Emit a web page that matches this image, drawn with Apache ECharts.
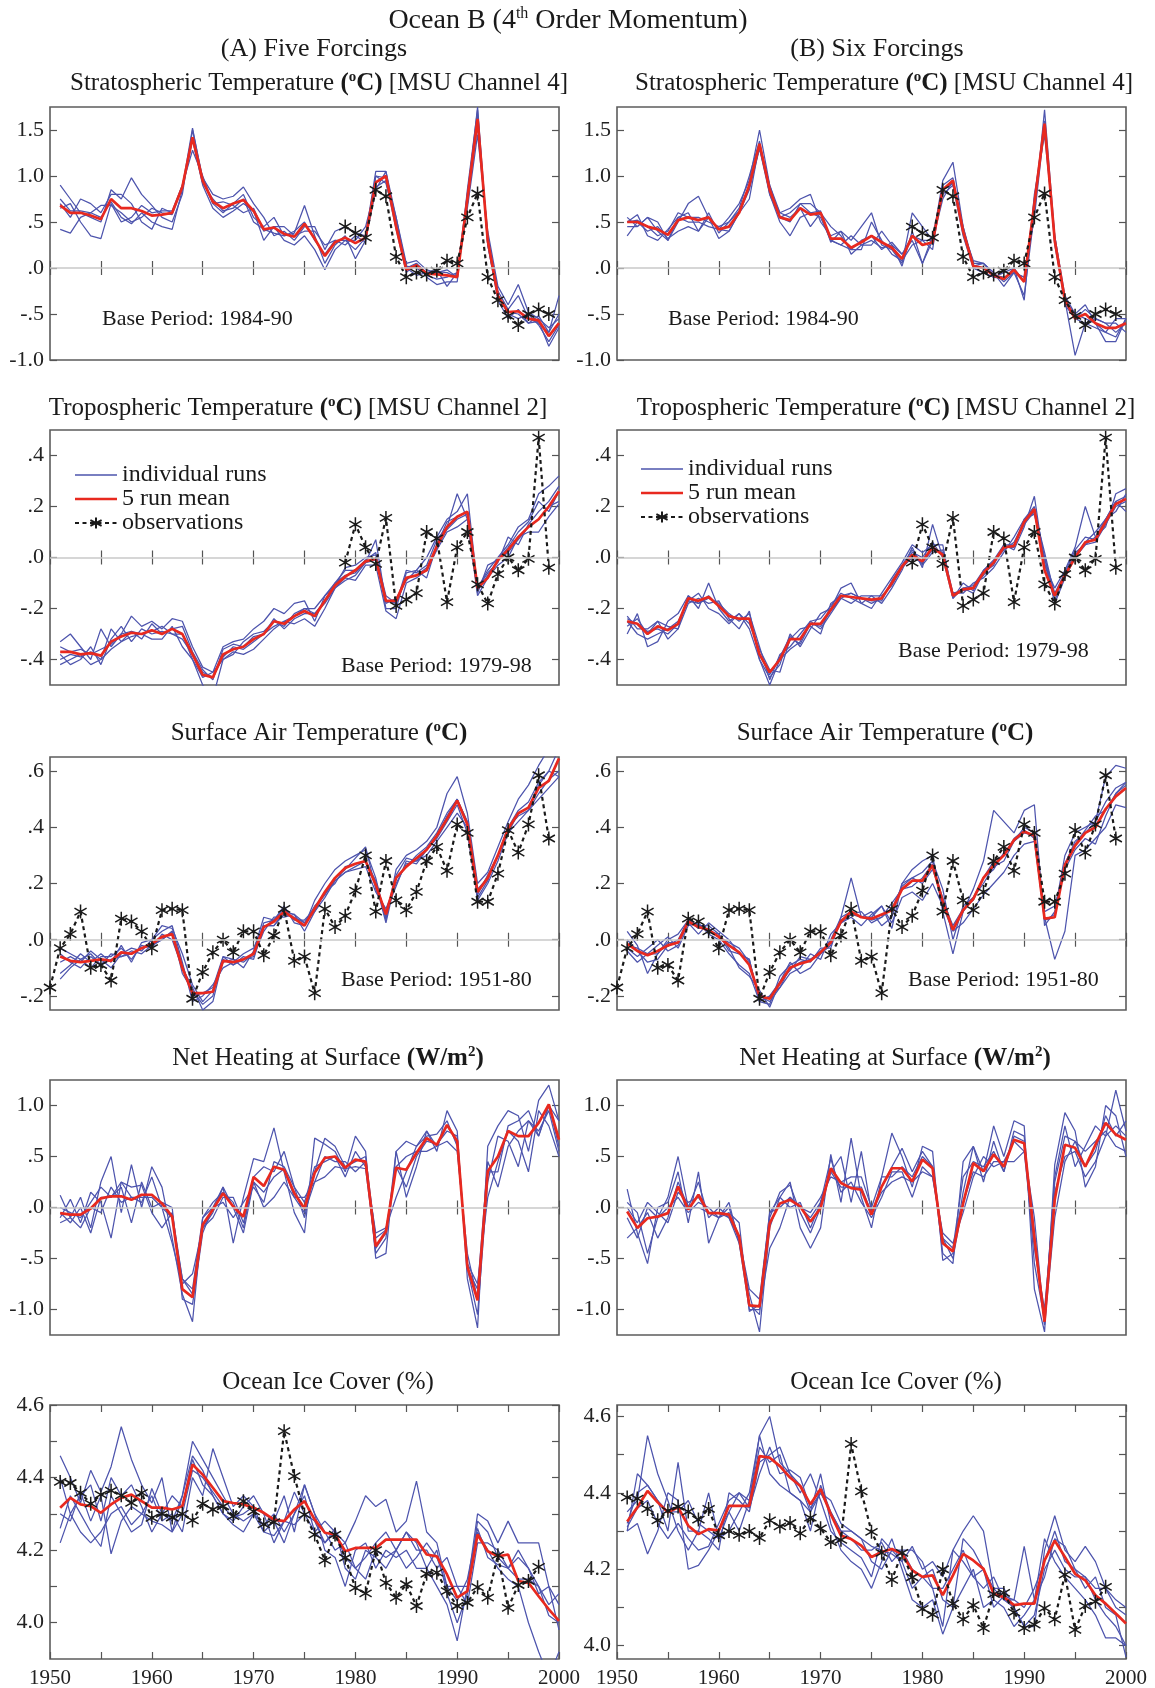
<!DOCTYPE html>
<html>
<head>
<meta charset="utf-8">
<script src="https://cdn.jsdelivr.net/npm/echarts@6/dist/echarts.min.js"></script>
<style>
  html, body { margin: 0; padding: 0; background: #fff; }
  #main { width: 1155px; height: 1688px; }
</style>
</head>
<body>
<div id="main"></div>
<script>
// ---- data (annual values, runs and means start 1951) ----
const stratA_mean = [
  .68,.60,.60,.57,.53,.75,.65,.65,.62,.57,
  .58,.60,.88,1.42,.95,.72,.65,.70,.74,.62,
  .42,.44,.37,.34,.48,.32,.13,.28,.33,.27,
  .33,.93,1.00,.45,-.02,.03,-.06,-.07,-.08,-.10,
  .75,1.62,.30,-.30,-.48,-.47,-.55,-.57,-.74,-.60];
const stratA_runs = [
  [.90,.75,.60,.55,.50,.85,.75,.98,.80,.68, .55,.50,.80,1.50,.98,.80,.75,.78,.88,.70, .55,.35,.40,.30,.45,.45,.20,.40,.45,.38, .35,1.05,1.05,.55,.05,.08,-.02,-.05,-.02,-.10, .70,1.55,.35,-.25,-.45,-.30,-.55,-.60,-.70,-.30],
  [.42,.38,.55,.60,.55,.72,.55,.48,.60,.50, .45,.42,.85,1.40,.90,.65,.55,.62,.70,.62, .30,.45,.30,.25,.35,.20,-.02,.20,.30,.30, .45,.88,.95,.42,-.05,.05,-.10,-.18,-.15,-.15, .85,1.72,.25,-.35,-.55,-.45,-.60,-.58,-.85,-.65],
  [.70,.55,.75,.70,.60,.80,.80,.70,.50,.42, .65,.60,.90,1.28,1.00,.70,.60,.70,.80,.55, .45,.55,.35,.38,.68,.35,.05,.25,.35,.10, .30,.85,1.05,.45,.00,-.08,-.05,-.02,-.20,-.05, .80,1.65,.25,-.30,-.50,-.55,-.50,-.62,-.80,-.62],
  [.65,.70,.50,.35,.32,.70,.50,.55,.68,.60, .62,.62,.90,1.40,.92,.75,.62,.65,.75,.50, .42,.38,.35,.40,.50,.30,.15,.30,.25,.35, .28,1.00,.92,.50,.02,.00,-.08,-.12,-.10,-.05, .65,1.45,.40,-.20,-.40,-.18,-.48,-.55,-.65,-.55],
  [.75,.62,.62,.60,.68,.68,.60,.50,.55,.65, .60,.58,.88,1.52,.95,.70,.72,.68,.60,.65, .40,.45,.45,.35,.40,.40,.25,.30,.30,.20, .33,1.00,.98,.55,.00,.05,-.05,-.04,-.05,-.10, .75,1.75,.30,-.30,-.48,-.50,-.60,-.52,-.70,-.50]];
const stratB_mean = [
  .50,.50,.45,.42,.36,.52,.55,.52,.55,.42,
  .45,.60,.90,1.35,.85,.55,.52,.65,.58,.60,
  .32,.32,.22,.28,.35,.28,.22,.10,.35,.25,
  .28,.85,.95,.40,.02,.00,-.08,-.12,-.02,-.15,
  .70,1.57,.30,-.35,-.55,-.50,-.60,-.65,-.65,-.60];
const stratB_runs = [
  [.55,.45,.55,.40,.30,.50,.70,.78,.55,.42, .55,.70,.95,1.50,.90,.60,.65,.75,.80,.50, .35,.40,.30,.45,.60,.25,.20,.05,.60,.45, .30,.95,1.15,.45,.05,.05,-.05,-.15,-.05,-.30, .60,1.72,.35,-.30,-.50,-.40,-.60,-.70,-.75,-.55],
  [.35,.50,.40,.45,.32,.40,.45,.40,.60,.38, .50,.65,1.00,1.38,.80,.50,.35,.55,.60,.55, .30,.25,.35,.25,.25,.40,.25,.15,.30,.05, .35,.80,.90,.35,.00,-.05,-.10,-.12,.00,-.15, .75,1.60,.25,-.35,-.95,-.60,-.55,-.60,-.70,-.60],
  [.50,.58,.35,.30,.42,.55,.50,.50,.45,.42, .40,.60,.85,1.30,.85,.60,.55,.65,.45,.60, .45,.35,.20,.20,.50,.30,.15,.08,.25,.30, .20,.90,.98,.40,.08,.05,-.05,-.20,-.05,-.10, .55,1.55,.30,-.40,-.55,-.60,-.65,-.70,-.55,-.55],
  [.45,.45,.55,.50,.30,.55,.60,.40,.55,.32, .40,.60,.75,1.35,.90,.55,.50,.70,.70,.60, .28,.40,.15,.25,.30,.22,.25,.02,.40,.05, .30,.75,.95,.45,.00,-.05,-.10,-.05,.00,-.35, .80,1.45,.35,-.35,-.50,-.55,-.60,-.80,-.80,-.55],
  [.50,.52,.45,.35,.40,.60,.55,.55,.50,.45, .50,.62,.90,1.30,.80,.55,.60,.70,.60,.62, .30,.25,.20,.30,.35,.20,.28,.15,.35,.30, .30,.85,.92,.40,.02,.05,-.08,-.10,-.05,-.10, .70,1.55,.30,-.35,-.55,-.45,-.55,-.60,-.60,-.70]];
// observations 1979-1999
const strat_obs = [.45,.38,.33,.85,.78,.12,-.10,-.05,-.07,-.03,.08,.05,.55,.81,-.10,-.35,-.52,-.62,-.50,-.45,-.50];

const tropA_mean = [
  -.37,-.37,-.38,-.375,-.385,-.33,-.31,-.295,-.30,-.285,
  -.30,-.28,-.30,-.38,-.46,-.47,-.38,-.36,-.35,-.32,
  -.30,-.25,-.26,-.23,-.21,-.23,-.17,-.11,-.075,-.05,
  -.015,-.005,-.17,-.17,-.08,-.07,-.05,.045,.12,.16,
  .18,-.12,-.08,-.01,.03,.08,.12,.15,.20,.26];
const tropA_runs = [
  [-.33,-.30,-.35,-.40,-.28,-.35,-.30,-.23,-.27,-.25, -.28,-.24,-.25,-.35,-.43,-.45,-.35,-.33,-.32,-.28, -.25,-.20,-.22,-.18,-.17,-.25,-.15,-.10,-.05,-.05, -.01,.02,-.20,-.20,-.06,-.05,.00,.08,.15,.18, .25,-.12,-.05,.00,.05,.12,.15,.25,.28,.32],
  [-.42,-.40,-.38,-.42,-.40,-.28,-.33,-.29,-.30,-.32, -.32,-.27,-.35,-.40,-.50,-.55,-.40,-.37,-.38,-.36, -.32,-.28,-.25,-.26,-.24,-.27,-.20,-.12,-.08,-.09, -.03,-.03,-.21,-.24,-.10,-.08,-.05,.03,.10,.12, .15,-.15,-.08,-.03,.00,.08,.10,.10,.16,.21],
  [-.38,-.42,-.40,-.35,-.42,-.32,-.27,-.33,-.28,-.30, -.29,-.30,-.30,-.40,-.47,-.45,-.40,-.38,-.33,-.30, -.29,-.25,-.27,-.22,-.20,-.20,-.15,-.11,-.04,-.03, .00,.01,-.15,-.18,-.05,-.06,-.03,.07,.12,.25, .15,-.12,-.06,-.02,.08,.05,.13,.18,.22,.28],
  [-.35,-.37,-.36,-.38,-.36,-.34,-.30,-.29,-.32,-.26, -.30,-.28,-.27,-.37,-.44,-.48,-.36,-.34,-.35,-.31, -.30,-.27,-.25,-.23,-.20,-.22,-.17,-.10,-.07,-.06, -.02,.07,-.18,-.16,-.09,-.05,-.08,.05,.14,.16, .18,-.14,-.03,-.01,.04,.10,.14,.22,.18,.26],
  [-.40,-.38,-.39,-.37,-.40,-.36,-.33,-.31,-.30,-.29, -.27,-.30,-.32,-.38,-.45,-.47,-.39,-.35,-.36,-.33, -.30,-.24,-.28,-.24,-.22,-.22,-.18,-.12,-.09,-.07, -.02,-.01,-.17,-.18,-.08,-.07,-.04,.04,.11,.15, .17,-.13,-.07,-.01,.02,.07,.12,.15,.20,.22]];
const tropB_mean = [
  -.25,-.26,-.30,-.27,-.285,-.26,-.16,-.17,-.155,-.19,
  -.23,-.24,-.24,-.38,-.45,-.40,-.32,-.32,-.26,-.26,
  -.205,-.15,-.155,-.16,-.165,-.16,-.10,-.035,.01,-.015,
  .04,.01,-.15,-.125,-.12,-.06,-.02,.04,.045,.14,
  .19,-.05,-.15,-.07,.00,.06,.07,.14,.21,.23];
const tropB_runs = [
  [-.30,-.22,-.35,-.33,-.25,-.22,-.15,-.20,-.10,-.20, -.25,-.22,-.28,-.40,-.47,-.42,-.30,-.35,-.28,-.22, -.20,-.12,-.10,-.18,-.20,-.14,-.08,-.02,.05,.02, .05,.05,-.16,-.10,-.13,-.05,-.01,.05,.03,.12, .24,-.03,-.12,-.05,.04,.20,.08,.12,.25,.27],
  [-.23,-.28,-.28,-.25,-.32,-.28,-.15,-.18,-.16,-.18, -.22,-.25,-.22,-.35,-.48,-.38,-.35,-.30,-.25,-.28, -.22,-.16,-.18,-.15,-.15,-.18,-.12,-.05,.04,-.04, .13,.00,-.14,-.14,-.10,-.08,-.04,.02,.08,.15, .20,.00,-.18,-.08,.00,.05,.08,.15,.18,.25],
  [-.25,-.30,-.32,-.30,-.28,-.25,-.17,-.14,-.20,-.22, -.26,-.22,-.26,-.36,-.44,-.45,-.32,-.28,-.27,-.30, -.18,-.15,-.14,-.16,-.18,-.16,-.10,-.04,.00,-.02, .03,.02,-.15,-.12,-.14,-.06,-.03,.05,.05,.13, .18,.02,-.15,-.07,.02,.05,.06,.13,.20,.22],
  [-.27,-.24,-.30,-.25,-.27,-.28,-.18,-.16,-.18,-.17, -.24,-.28,-.21,-.40,-.50,-.40,-.36,-.33,-.25,-.24, -.19,-.14,-.16,-.18,-.15,-.15,-.11,-.04,.02,.00, .06,.00,-.16,-.12,-.11,-.05,-.02,.03,.06,.14, .18,-.02,-.17,-.06,.01,.06,.10,.15,.22,.18],
  [-.24,-.26,-.29,-.28,-.30,-.26,-.17,-.18,-.15,-.19, -.23,-.24,-.24,-.38,-.46,-.39,-.31,-.34,-.26,-.27, -.21,-.16,-.14,-.16,-.17,-.17,-.09,-.03,.03,-.03, .02,.03,-.14,-.13,-.12,-.07,-.02,.04,.04,.15, .17,.00,-.14,-.06,.03,.08,.07,.15,.22,.24]];
// observations 1979-1999
const trop_obs = [-.02,.13,.04,-.025,.155,-.19,-.165,-.14,.10,.075,-.175,.04,.10,-.105,-.18,-.065,.00,-.05,-.005,.47,-.04];

const surfA_mean = [
  -.06,-.075,-.08,-.075,-.07,-.075,-.045,-.05,-.03,-.015,
  .01,.02,-.10,-.19,-.19,-.185,-.075,-.08,-.07,-.05,
  .045,.065,.10,.075,.05,.11,.17,.22,.255,.27,
  .28,.195,.09,.22,.26,.29,.32,.37,.43,.495,
  .41,.17,.22,.30,.395,.45,.47,.54,.565,.645];
const surfA_runs = [
  [-.12,-.09,-.05,-.08,-.05,-.08,-.02,-.08,-.01,.00, .05,.04,-.05,-.16,-.22,-.18,-.08,-.07,-.10,-.04, .08,.07,.12,.06,.05,.14,.20,.25,.28,.30, .32,.22,.07,.25,.30,.32,.35,.40,.52,.58, .45,.20,.24,.33,.42,.50,.55,.62,.68,.69],
  [-.05,-.08,-.10,-.06,-.09,-.05,-.06,-.04,-.05,-.02, .00,.03,-.12,-.18,-.23,-.20,-.06,-.09,-.07,-.06, .03,.08,.08,.09,.03,.10,.15,.21,.24,.25, .26,.17,.11,.20,.27,.28,.30,.35,.40,.45, .40,.14,.20,.28,.38,.42,.46,.50,.54,.58],
  [-.08,-.06,-.08,-.04,-.07,-.10,-.05,-.03,-.04,.00, .03,.05,-.08,-.22,-.20,-.16,-.10,-.08,-.05,-.03, .05,.05,.10,.09,.06,.10,.17,.20,.26,.27, .28,.20,.06,.22,.26,.30,.33,.38,.45,.50, .42,.18,.22,.30,.40,.44,.46,.52,.57,.60],
  [-.03,-.05,-.07,-.10,-.06,-.06,-.03,-.07,-.02,-.03, .02,.00,-.10,-.17,-.25,-.22,-.07,-.09,-.06,-.07, .05,.05,.09,.08,.06,.12,.16,.22,.25,.29, .33,.18,.10,.19,.28,.27,.32,.36,.42,.48, .38,.15,.21,.30,.38,.45,.47,.55,.60,.58],
  [-.14,-.10,-.07,-.05,-.09,-.07,-.06,-.05,-.03,-.02, .00,.03,-.09,-.20,-.19,-.17,-.06,-.07,-.08,-.05, .06,.07,.11,.07,.07,.11,.16,.21,.24,.26, .28,.21,.08,.23,.29,.28,.32,.37,.44,.50, .42,.16,.23,.30,.40,.46,.49,.56,.60,.68]];
const surfB_mean = [
  -.015,-.04,-.055,-.04,-.02,-.01,.065,.045,.035,.01,
  -.02,-.045,-.09,-.20,-.21,-.155,-.10,-.085,-.075,-.045,
  -.01,.065,.10,.08,.075,.09,.105,.18,.21,.21,
  .265,.135,.035,.105,.145,.22,.265,.30,.355,.385,
  .37,.075,.08,.265,.335,.38,.40,.465,.51,.54];
const surfB_runs = [
  [.03,-.02,-.12,-.05,.00,.02,.07,.05,.05,.02, -.03,-.10,-.13,-.18,-.24,-.15,-.08,-.12,-.10,-.05, .00,.08,.22,.08,.10,.05,.08,.20,.25,.28, .30,.10,-.05,.10,.18,.28,.46,.42,.38,.46, .48,.05,.10,.30,.38,.40,.42,.58,.62,.61],
  [-.03,-.06,-.03,.00,-.04,-.02,.06,.02,.06,.03, .00,-.05,-.07,-.22,-.20,-.17,-.12,-.10,-.05,-.07, .02,.06,.08,.05,.09,.12,.06,.15,.17,.14, .20,.12,.03,.06,.11,.16,.20,.24,.30,.34, .35,.08,-.07,.03,.30,.32,.36,.40,.48,.47],
  [-.04,-.08,-.05,-.02,.01,-.03,.05,.06,.02,.00, -.05,-.09,-.12,-.22,-.23,-.13,-.09,-.07,-.08,-.03, -.03,.08,.10,.08,.08,.12,.04,.20,.22,.24, .28,.18,.00,.12,.15,.20,.26,.28,.35,.40, .38,.10,.12,.25,.32,.36,.34,.44,.52,.55],
  [.00,-.04,-.08,-.07,-.02,.00,.07,.04,.04,.01, -.01,-.03,-.08,-.20,-.22,-.17,-.10,-.08,-.07,-.04, -.01,.06,.09,.10,.06,.08,.13,.18,.19,.22, .27,.14,.05,.11,.14,.22,.25,.31,.35,.38, .37,.07,.09,.27,.34,.39,.44,.46,.52,.56],
  [-.02,-.03,-.05,-.05,-.01,-.01,.07,.05,.03,.02, -.04,-.05,-.07,-.22,-.20,-.15,-.11,-.06,-.07,-.05, -.02,.07,.09,.08,.07,.08,.11,.19,.22,.20, .25,.15,.04,.10,.15,.22,.28,.30,.36,.39, .36,.07,.08,.27,.35,.38,.42,.49,.54,.56]];
// observations 1950-1999
const surf_obs = [
  -.17,-.03,.02,.10,-.10,-.09,-.145,.075,.065,.03,
  -.03,.105,.11,.105,-.21,-.115,-.045,.00,-.045,.03,
  .03,-.055,.015,.11,-.075,-.06,-.19,.11,.045,.085,
  .175,.30,.10,.28,.14,.105,.17,.28,.33,.245,
  .41,.38,.135,.135,.235,.39,.31,.41,.585,.36];

const heatA_mean = [
  -.055,-.07,-.07,-.01,.09,.11,.11,.075,.125,.125,
  .04,-.09,-.80,-.88,-.17,-.02,.14,.01,-.09,.30,
  .21,.40,.37,.14,-.01,.34,.485,.50,.39,.47,
  .45,-.38,-.235,.39,.37,.535,.68,.615,.81,.65,
  -.58,-.91,.355,.50,.75,.70,.70,.83,1.01,.665];
const heatA_runs = [
  [.12,-.10,.10,-.20,.25,.50,-.05,.42,.00,.40, .20,-.30,-.85,-1.12,-.10,.00,.20,-.35,.10,.48, .45,.78,.35,-.05,-.25,.68,.62,.55,.35,.70, .55,-.50,-.45,.55,.65,.60,.75,.55,.95,.75, -.70,-1.18,.60,.80,.95,.90,.55,1.05,1.20,.85],
  [-.10,.08,-.15,.15,.05,-.30,.25,.20,.22,-.05, -.20,-.05,-.70,-.80,-.10,.05,.15,.05,-.20,.30, .40,.35,.55,.20,.05,.40,.45,.50,.30,.55, .40,-.25,-.20,.10,.35,.60,.70,.72,.85,.60, -.55,-.75,.10,.45,.75,.65,.35,.95,.80,.50],
  [-.05,-.15,.00,-.25,.10,.10,.20,-.15,.25,.00, .05,.00,-.90,-.95,-.25,.00,.05,-.10,.05,.20, .05,.45,.40,.20,-.10,.35,.68,.60,.40,.45, .50,-.30,-.22,.40,.20,.50,.65,.62,.75,.70, -.60,-1.05,.25,.70,.65,.40,.85,.75,.95,.55],
  [.00,-.05,-.10,.05,.20,.10,.25,.10,.05,.30, .00,-.10,-.70,-.85,-.20,-.05,.20,.00,-.25,.25, .15,.30,.38,.10,.10,.25,.50,.45,.45,.35, .45,-.45,-.30,.55,.10,.40,.75,.60,.65,.55, -.45,-.90,.35,.35,.80,.85,.95,.70,1.00,.85],
  [-.15,-.10,-.20,.00,-.05,.20,.05,.10,.10,.10, .00,-.35,-.75,-.65,-.20,-.10,.10,.10,-.15,.25, .00,.10,.25,.10,-.05,.25,.30,.40,.38,.40, .38,-.40,-.25,.40,.50,.55,.55,.60,.80,.65, -.60,-.80,.45,.20,.60,.75,.85,.70,1.00,.60]];
const heatB_mean = [
  -.04,-.20,-.105,-.09,-.055,.205,-.02,.125,-.055,-.055,
  -.07,-.285,-.96,-.97,-.155,.04,.075,.01,-.14,-.005,
  .385,.24,.19,.175,-.07,.205,.385,.385,.255,.47,
  .385,-.35,-.43,.04,.435,.355,.52,.40,.665,.63,
  -.30,-1.12,.075,.615,.585,.40,.615,.83,.715,.665];
const heatB_runs = [
  [.18,-.25,-.55,.00,.05,.35,-.15,.35,-.35,-.10, .05,-.35,-.85,-1.22,-.20,.10,.25,-.20,-.40,-.20, .52,.05,.68,.10,-.20,.30,.73,.50,.20,.60, .55,-.52,-.45,.15,.60,.35,.80,.50,.85,.80, -.80,-1.22,.42,.93,.75,.20,.40,1.00,.90,.50],
  [.05,-.05,-.45,-.10,.10,.50,.00,.25,-.10,.00, -.10,-.30,-.95,-1.05,-.10,.15,.22,-.05,-.25,.00, .35,.50,.05,.55,-.05,.20,.40,.58,.35,.55, .40,-.45,-.55,.45,.60,.25,.65,.35,.75,.70, -.55,-1.10,.30,.80,.40,.60,.80,.70,1.15,.75],
  [-.30,-.20,-.05,-.30,-.10,.25,.00,.00,-.05,-.10, .00,-.30,-.80,-.90,-.05,.00,.10,.00,-.10,.05, .48,.15,.25,.05,-.10,.10,.35,.35,.10,.40, .30,-.30,-.50,.05,.35,.30,.45,.45,.65,.55, -.40,-1.00,.15,.50,.55,.30,.45,.70,.80,.70],
  [.00,-.15,.05,-.05,-.15,.15,.05,.10,-.05,-.05, -.10,-.35,-1.00,-1.00,-.40,-.20,.10,.00,-.05,.10, .30,.25,.30,.30,.00,.30,.30,.40,.30,.50, .40,-.30,-.40,.30,.45,.40,.55,.35,.70,.65, -.25,-1.15,.25,.70,.65,.40,.55,.90,.70,.85],
  [-.10,-.30,.00,-.10,.00,.10,-.05,.05,.00,-.10, -.05,-.15,-1.02,-.95,-.05,.10,.00,.05,-.20,.05, .35,.20,.20,.20,-.05,.15,.25,.30,.25,.35, .30,-.25,-.35,-.05,.30,.50,.40,.45,.45,.55, -.10,-1.15,-.10,.45,.65,.55,.65,.75,.60,.55]];

const iceA_mean = [
  4.317,4.344,4.326,4.321,4.303,4.326,4.344,4.353,4.335,4.317,
  4.317,4.312,4.321,4.436,4.408,4.372,4.335,4.33,4.326,4.317,
  4.303,4.284,4.28,4.312,4.335,4.284,4.248,4.243,4.197,4.206,
  4.206,4.206,4.229,4.229,4.229,4.229,4.188,4.183,4.133,4.069,
  4.087,4.243,4.197,4.183,4.188,4.115,4.11,4.073,4.037,4.005];
const iceA_runs = [
  [4.46,4.40,4.33,4.42,4.36,4.43,4.54,4.45,4.38,4.33, 4.40,4.25,4.35,4.50,4.45,4.40,4.35,4.30,4.28,4.30, 4.25,4.28,4.35,4.25,4.38,4.30,4.25,4.20,4.22,4.28, 4.35,4.32,4.34,4.25,4.28,4.39,4.25,4.22,4.10,4.10, 4.10,4.30,4.28,4.22,4.28,4.22,4.22,4.22,4.10,4.05],
  [4.22,4.30,4.25,4.22,4.25,4.30,4.32,4.27,4.30,4.35, 4.28,4.30,4.25,4.40,4.35,4.48,4.40,4.32,4.35,4.32, 4.30,4.28,4.22,4.30,4.38,4.30,4.20,4.18,4.10,4.20, 4.22,4.15,4.20,4.18,4.20,4.15,4.15,4.10,4.05,3.95, 4.10,4.25,4.20,4.15,4.12,4.10,4.00,3.92,3.85,3.92],
  [4.40,4.30,4.35,4.38,4.28,4.40,4.35,4.38,4.32,4.25, 4.30,4.35,4.32,4.45,4.38,4.35,4.30,4.28,4.32,4.35, 4.30,4.22,4.28,4.36,4.30,4.25,4.28,4.25,4.18,4.15, 4.18,4.22,4.25,4.20,4.25,4.20,4.20,4.15,4.18,4.10, 4.05,4.22,4.22,4.20,4.15,4.18,4.15,4.10,4.02,4.00],
  [4.26,4.35,4.30,4.25,4.21,4.35,4.30,4.25,4.27,4.37, 4.30,4.28,4.35,4.46,4.42,4.35,4.30,4.27,4.25,4.30, 4.27,4.30,4.25,4.30,4.35,4.25,4.22,4.26,4.15,4.12, 4.20,4.18,4.15,4.20,4.25,4.22,4.15,4.20,4.08,4.00, 4.08,4.28,4.25,4.18,4.15,4.12,4.12,4.10,4.05,4.08],
  [4.30,4.28,4.36,4.28,4.35,4.19,4.28,4.32,4.30,4.28, 4.27,4.25,4.30,4.42,4.40,4.36,4.32,4.29,4.30,4.32, 4.25,4.24,4.28,4.27,4.30,4.28,4.22,4.25,4.22,4.15, 4.12,4.20,4.18,4.20,4.15,4.18,4.22,4.18,4.10,4.06, 4.12,4.26,4.18,4.16,4.15,4.20,4.15,4.08,4.10,3.98]];
const iceB_mean = [
  4.325,4.362,4.405,4.375,4.349,4.362,4.314,4.292,4.305,4.301,
  4.366,4.366,4.366,4.496,4.492,4.47,4.44,4.418,4.37,4.41,
  4.344,4.288,4.279,4.262,4.232,4.245,4.253,4.24,4.197,4.18,
  4.184,4.132,4.184,4.24,4.223,4.201,4.136,4.127,4.106,4.11,
  4.11,4.223,4.275,4.232,4.188,4.171,4.132,4.11,4.084,4.058];
const iceB_runs = [
  [4.30,4.45,4.42,4.38,4.30,4.48,4.30,4.30,4.40,4.28, 4.35,4.40,4.38,4.55,4.60,4.48,4.45,4.42,4.35,4.40, 4.35,4.30,4.30,4.28,4.22,4.20,4.25,4.25,4.25,4.22, 4.15,4.05,4.25,4.30,4.34,4.30,4.15,4.15,4.10,4.05, 4.05,4.25,4.34,4.25,4.22,4.26,4.22,4.15,4.12,4.10],
  [4.35,4.38,4.55,4.45,4.38,4.30,4.25,4.30,4.28,4.25, 4.40,4.38,4.35,4.48,4.50,4.52,4.45,4.40,4.45,4.38, 4.30,4.27,4.25,4.23,4.18,4.28,4.25,4.22,4.15,4.18, 4.20,4.12,4.10,4.28,4.25,4.20,4.15,4.12,4.10,4.05, 4.08,4.20,4.25,4.20,4.18,4.18,4.12,4.08,4.05,4.00],
  [4.30,4.32,4.24,4.30,4.40,4.38,4.20,4.21,4.25,4.30, 4.35,4.30,4.38,4.52,4.48,4.50,4.40,4.38,4.35,4.45, 4.32,4.25,4.22,4.20,4.15,4.22,4.28,4.20,4.12,4.10, 4.12,4.03,4.10,4.15,4.20,4.10,4.12,4.10,4.05,4.08, 4.12,4.28,4.22,4.18,4.15,4.12,4.08,4.02,4.02,4.00],
  [4.32,4.40,4.42,4.38,4.35,4.35,4.38,4.32,4.30,4.28, 4.30,4.35,4.40,4.55,4.45,4.42,4.40,4.38,4.30,4.42, 4.35,4.30,4.28,4.25,4.25,4.27,4.22,4.25,4.20,4.18, 4.15,4.15,4.20,4.25,4.18,4.15,4.18,4.12,4.12,4.10, 4.15,4.22,4.30,4.22,4.20,4.18,4.15,4.15,4.10,4.08],
  [4.31,4.36,4.38,4.32,4.28,4.32,4.28,4.25,4.26,4.32, 4.38,4.40,4.36,4.45,4.52,4.45,4.46,4.44,4.36,4.40, 4.38,4.32,4.30,4.28,4.26,4.25,4.24,4.22,4.26,4.20, 4.22,4.18,4.25,4.22,4.18,4.20,4.10,4.13,4.12,4.26, 4.12,4.18,4.28,4.26,4.20,4.15,4.18,4.10,4.08,3.97]];
// observations 1951-1998
const ice_obs = [
  4.388,4.385,4.358,4.328,4.353,4.364,4.351,4.33,4.358,4.289,
  4.30,4.29,4.30,4.282,4.328,4.312,4.321,4.294,4.335,4.307,
  4.271,4.277,4.528,4.404,4.298,4.243,4.172,4.243,4.179,4.096,
  4.081,4.20,4.11,4.069,4.106,4.046,4.135,4.138,4.087,4.046,
  4.055,4.098,4.069,4.186,4.041,4.104,4.115,4.154];

const panelTitles = [
  'Stratospheric Temperature {b|(}{bs|o}{b|C)} [MSU Channel 4]',
  'Tropospheric Temperature {b|(}{bs|o}{b|C)} [MSU Channel 2]',
  'Surface Air Temperature {b|(}{bs|o}{b|C)}',
  'Net Heating at Surface {b|(W/m}{bs|2}{b|)}',
  'Ocean Ice Cover (%)'
];
const xLabelYears = [1950, 1960, 1970, 1980, 1990, 2000];

// ---- chart ----
const FONT = "'Liberation Serif', 'DejaVu Serif', serif";
const BLUE = '#4d54ad';
const RED = '#e8291f';
const INK = '#1a1a1a';
const STAR = 'path://M6,0L6,12M0.8,3L11.2,9M0.8,9L11.2,3';

function pts(start, vals) {
  return vals.map((v, i) => [start + i, v]);
}
function fmt(v) {
  return v.toFixed(1).replace(/^(-?)0\./, '$1.');
}

const cols = [{ left: 50, width: 509 }, { left: 617, width: 509 }];
const rows = [
  { top: 107, height: 253 },
  { top: 430, height: 255 },
  { top: 757, height: 253 },
  { top: 1080, height: 255 },
  { top: 1405, height: 254 }
];

const panels = [
  { runs: stratA_runs, mean: stratA_mean, obs: strat_obs, obsStart: 1979, min: -1, max: 1.75, ticks: [-1, -0.5, 0, 0.5, 1, 1.5] },
  { runs: stratB_runs, mean: stratB_mean, obs: strat_obs, obsStart: 1979, min: -1, max: 1.75, ticks: [-1, -0.5, 0, 0.5, 1, 1.5] },
  { runs: tropA_runs, mean: tropA_mean, obs: trop_obs, obsStart: 1979, min: -0.5, max: 0.5, ticks: [-0.4, -0.2, 0, 0.2, 0.4] },
  { runs: tropB_runs, mean: tropB_mean, obs: trop_obs, obsStart: 1979, min: -0.5, max: 0.5, ticks: [-0.4, -0.2, 0, 0.2, 0.4] },
  { runs: surfA_runs, mean: surfA_mean, obs: surf_obs, obsStart: 1950, min: -0.25, max: 0.65, ticks: [-0.2, 0, 0.2, 0.4, 0.6] },
  { runs: surfB_runs, mean: surfB_mean, obs: surf_obs, obsStart: 1950, min: -0.25, max: 0.65, ticks: [-0.2, 0, 0.2, 0.4, 0.6] },
  { runs: heatA_runs, mean: heatA_mean, obs: null, min: -1.25, max: 1.25, ticks: [-1, -0.5, 0, 0.5, 1] },
  { runs: heatB_runs, mean: heatB_mean, obs: null, min: -1.25, max: 1.25, ticks: [-1, -0.5, 0, 0.5, 1] },
  { runs: iceA_runs, mean: iceA_mean, obs: ice_obs, obsStart: 1951, min: 3.9, max: 4.6, noZero: true,
    ticks: [4.0, 4.1, 4.2, 4.3, 4.4, 4.5, 4.6], labels: [4.0, 4.2, 4.4, 4.6] },
  { runs: iceB_runs, mean: iceB_mean, obs: ice_obs, obsStart: 1951, min: 3.965, max: 4.63, noZero: true,
    ticks: [4.0, 4.1, 4.2, 4.3, 4.4, 4.5, 4.6], labels: [4.0, 4.2, 4.4, 4.6] }
];

const grids = [], xAxes = [], yAxes = [], series = [];
const tickStyle = { inside: true, length: 7, lineStyle: { color: '#555', width: 1.2 } };

panels.forEach((p, i) => {
  const r = Math.floor(i / 2), c = i % 2;
  grids.push({
    left: cols[c].left, width: cols[c].width, top: rows[r].top, height: rows[r].height,
    show: true, borderColor: '#5c5c5c', borderWidth: 1.6, backgroundColor: '#fff',
    containLabel: false, outerBoundsMode: 'none'
  });
  const bottomRow = r === 4;
  xAxes.push({
    type: 'value', gridIndex: i, position: 'bottom', min: 1950, max: 2000, interval: 5,
    axisLine: { show: false }, splitLine: { show: false }, axisTick: tickStyle,
    axisLabel: {
      show: bottomRow, margin: 9, showMinLabel: true, showMaxLabel: true, hideOverlap: false,
      fontFamily: FONT, fontSize: 21, color: '#222',
      formatter: v => (xLabelYears.indexOf(v) >= 0 ? String(v) : '')
    }
  });
  xAxes.push({
    type: 'value', gridIndex: i, position: 'top', min: 1950, max: 2000, interval: 5,
    axisLine: { show: false }, splitLine: { show: false }, axisTick: tickStyle,
    axisLabel: { show: false }
  });
  yAxes.push({
    type: 'value', gridIndex: i, position: 'left', min: p.min, max: p.max,
    axisLine: { show: false }, splitLine: { show: false },
    axisTick: Object.assign({ customValues: p.ticks }, tickStyle),
    axisLabel: {
      customValues: p.labels || p.ticks, margin: 6, fontFamily: FONT, fontSize: 22, color: '#222',
      formatter: v => fmt(v)
    }
  });
  yAxes.push({
    type: 'value', gridIndex: i, position: 'right', min: p.min, max: p.max,
    axisLine: { show: false }, splitLine: { show: false },
    axisTick: Object.assign({ customValues: p.ticks }, tickStyle),
    axisLabel: { show: false }
  });

  p.runs.forEach((run, k) => {
    const s = {
      name: 'individual runs', type: 'line', xAxisIndex: 2 * i, yAxisIndex: 2 * i,
      data: pts(1951, run), symbol: 'none', silent: true, z: 2,
      lineStyle: { color: BLUE, width: 1.25 }, itemStyle: { color: BLUE }
    };
    if (k === 0 && !p.noZero) {
      s.markLine = {
        silent: true, symbol: ['none', 'none'], label: { show: false },
        lineStyle: { color: '#c9c9c9', width: 1.6, type: 'solid' },
        data: [{ yAxis: 0 }], animation: false
      };
    }
    series.push(s);
  });
  series.push({
    name: '5 run mean', type: 'line', xAxisIndex: 2 * i, yAxisIndex: 2 * i,
    data: pts(1951, p.mean), symbol: 'none', silent: true, z: 3,
    lineStyle: { color: RED, width: 2.7 }, itemStyle: { color: RED }
  });
  if (p.obs) {
    series.push({
      name: 'observations', type: 'line', xAxisIndex: 2 * i, yAxisIndex: 2 * i,
      data: pts(p.obsStart, p.obs), symbol: STAR, symbolSize: 14, symbolKeepAspect: true,
      showSymbol: true, showAllSymbol: true, silent: true, z: 4,
      lineStyle: { color: INK, width: 2.2, type: [4, 3.5] },
      itemStyle: { color: INK, borderColor: INK, borderWidth: 1.5 }
    });
  }
});

const rich = {
  b: { fontFamily: FONT, fontSize: 25, fontWeight: 'bold', color: INK },
  bs: { fontFamily: FONT, fontSize: 15, fontWeight: 'bold', color: INK, verticalAlign: 'top', lineHeight: 15 },
  sup: { fontFamily: FONT, fontSize: 16, color: INK, verticalAlign: 'top', lineHeight: 16 }
};
function text(t, x, y, size, align) {
  return {
    text: t, left: x, top: y, textAlign: align || 'center', padding: 0,
    textStyle: { fontFamily: FONT, fontSize: size, fontWeight: 'normal', color: INK, lineHeight: size + 2, rich: rich }
  };
}

const titleCentersA = [319, 298, 319, 328, 328];
const titleCentersB = [884, 886, 885, 895, 896];
const titleTops = [70, 395, 720, 1045, 1369];

const titles = [
  text('Ocean B (4{sup|th} Order Momentum)', 568, 6, 28),
  text('(A) Five Forcings', 314, 35, 26),
  text('(B) Six Forcings', 877, 35, 26),
  text('Base Period: 1984-90', 102, 307, 22, 'left'),
  text('Base Period: 1984-90', 668, 307, 22, 'left'),
  text('Base Period: 1979-98', 341, 654, 22, 'left'),
  text('Base Period: 1979-98', 898, 639, 22, 'left'),
  text('Base Period: 1951-80', 341, 968, 22, 'left'),
  text('Base Period: 1951-80', 908, 968, 22, 'left')
];
panelTitles.forEach((t, r) => {
  titles.push(text(t, titleCentersA[r], titleTops[r], 25));
  titles.push(text(t, titleCentersB[r], titleTops[r], 25));
});

function legendAt(x, y) {
  return {
    left: x, top: y, orient: 'vertical', padding: 0, itemGap: 0,
    itemWidth: 42, itemHeight: 14, selectedMode: false, symbolKeepAspect: true,
    data: [
      { name: 'individual runs', icon: 'path://M0,0L42,0L42,1.3L0,1.3Z' },
      { name: '5 run mean', icon: 'path://M0,0L42,0L42,2.7L0,2.7Z' },
      'observations'
    ],
    textStyle: { fontFamily: FONT, fontSize: 24, color: INK, lineHeight: 24 }
  };
}

const chart = echarts.init(document.getElementById('main'));
const option = {
  animation: false,
  backgroundColor: '#fff',
  title: titles,
  legend: [legendAt(74, 463), legendAt(640, 457)],
  grid: grids,
  xAxis: xAxes,
  yAxis: yAxes,
  series: series
};
chart.setOption(option);
</script>
</body>
</html>
